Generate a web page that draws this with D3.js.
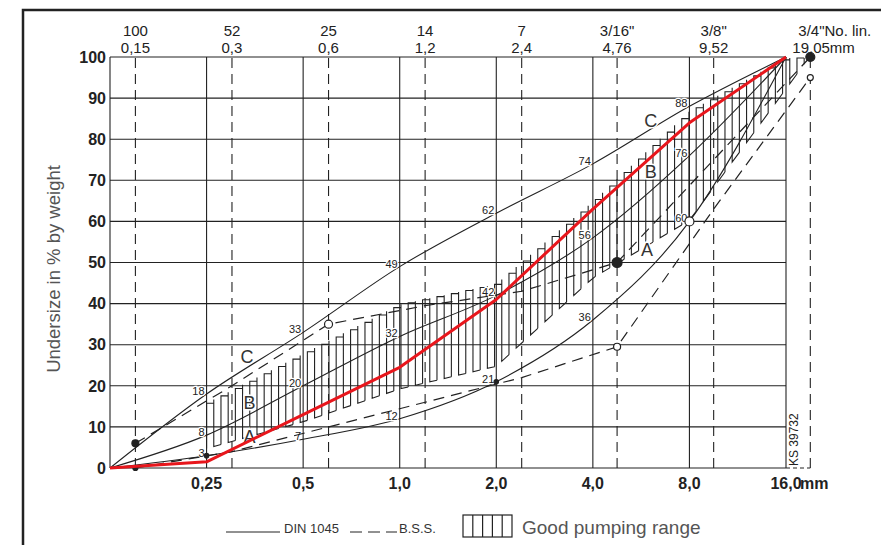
<!DOCTYPE html>
<html>
<head>
<meta charset="utf-8">
<script src="https://cdn.jsdelivr.net/npm/d3@7"></script>
<style>
body { margin: 0; background: #fff; }
svg { display: block; }
text { font-family: "Liberation Sans", Arial, sans-serif; }
</style>
</head>
<body>
<div id="chart"></div>
<script>
// sieve sizes (mm) of the DIN 1045 grid and bottom labels
const sieves = [0.125, 0.25, 0.5, 1, 2, 4, 8, 16];
const bottomLabels = ["0,25", "0,5", "1,0", "2,0", "4,0", "8,0", "16,0"];

// B.S.S. sieves, top labels
const bssSieves = [0.15, 0.3, 0.6, 1.2, 2.4, 4.76, 9.52, 19.05];
const bssNumbers = ["100", "52", "25", "14", "7", "3/16\"", "3/8\"", "3/4\"No. lin."];
const bssLabels = ["0,15", "0,3", "0,6", "1,2", "2,4", "4,76", "9,52", "19,05mm"];

const yTicks = [0, 10, 20, 30, 40, 50, 60, 70, 80, 90, 100];

// DIN 1045 grading curves (undersize % at sieves)
const dinA = [0, 3, 7, 12, 21, 36, 60, 100];
const dinB = [0, 8, 20, 32, 42, 56, 76, 100];
const dinC = [0, 18, 33, 49, 62, 74, 88, 100];

// B.S.S. limits (undersize % at bssSieves)
const bssUpper = [6, 20, 35, 39.5, 43, 50, 75, 100];
const bssLower = [0, 4, 10, 16, 22, 29.5, 63, 95];

// actual mix (red)
const mix = [0, 1.5, 13, 24.5, 41, 63, 84, 100];

// good pumping range
const rangeSizes = [0.25, 0.5, 1, 2, 4, 8, 16, 19.05];
const rangeTop = [16, 28, 40, 45, 65, 87, 100, 100];
const rangeBottom = [4.5, 11, 19, 24.5, 46, 60, 92, 100];

// marked points
const dots = [
  { d: 0.15, v: 6, r: 3.5, fill: true },
  { d: 0.15, v: 0, r: 2.5, fill: true },
  { d: 0.25, v: 3, r: 2.2, fill: true },
  { d: 0.6, v: 35, r: 4, fill: false },
  { d: 2, v: 21, r: 2.2, fill: true },
  { d: 4.76, v: 50, r: 5, fill: true },
  { d: 4.76, v: 29.5, r: 3.5, fill: false },
  { d: 8, v: 60, r: 4.5, fill: false },
  { d: 19.05, v: 100, r: 4.5, fill: true },
  { d: 19.05, v: 95, r: 3, fill: false }
];

const letters = [
  { t: "C", d: 0.334, v: 27 },
  { t: "B", d: 0.34, v: 15.8 },
  { t: "A", d: 0.34, v: 7.5 },
  { t: "C", d: 6.06, v: 84.4 },
  { t: "B", d: 6.06, v: 72 },
  { t: "A", d: 5.9, v: 53 }
];

const W = 881, H = 545;
const svg = d3.select("#chart").append("svg")
  .attr("width", W).attr("height", H);

svg.append("rect").attr("width", W).attr("height", H).attr("fill", "#fff");

// outer frame
svg.append("path")
  .attr("d", "M23,545 L23,10 L881,10")
  .attr("fill", "none").attr("stroke", "#222").attr("stroke-width", 2.5);

const x = d3.scaleLog().base(2).domain([0.125, 16]).range([110, 786]);
const y = d3.scaleLinear().domain([0, 100]).range([468, 57]);

const ink = "#222";

// horizontal grid
svg.append("g").selectAll("line").data(yTicks).enter().append("line")
  .attr("x1", x(0.125)).attr("x2", x(16))
  .attr("y1", d => y(d)).attr("y2", d => y(d))
  .attr("stroke", ink).attr("stroke-width", 1.1);

// vertical grid (DIN sieves)
svg.append("g").selectAll("line").data(sieves).enter().append("line")
  .attr("x1", d => x(d)).attr("x2", d => x(d))
  .attr("y1", y(0)).attr("y2", y(100))
  .attr("stroke", ink).attr("stroke-width", 1.1);

// dashed B.S.S. sieves
svg.append("g").selectAll("line").data(bssSieves).enter().append("line")
  .attr("x1", d => x(d)).attr("x2", d => x(d))
  .attr("y1", y(0)).attr("y2", y(100))
  .attr("stroke", ink).attr("stroke-width", 1.1)
  .attr("stroke-dasharray", "10,6");

svg.append("line")
  .attr("x1", x(16)).attr("x2", x(19.05))
  .attr("y1", y(0)).attr("y2", y(0))
  .attr("stroke", ink).attr("stroke-width", 1.1).attr("stroke-dasharray", "4,3");

// good pumping range: meander of vertical bars between the limits
const topAt = d3.scaleLog().base(2).domain(rangeSizes).range(rangeTop);
const botAt = d3.scaleLog().base(2).domain(rangeSizes).range(rangeBottom);
const hatchX = d3.range(x(0.25), x(19.05), 7.2);

let meander = "";
hatchX.forEach((px, i) => {
  const s = x.invert(px);
  const t = y(topAt(s)) + 1, b = y(botAt(s)) - 1;
  if (b - t < 1) return;
  const up = i % 2 === 0;
  meander += `M${px},${up ? b : t}L${px},${up ? t : b}`;
  const nx = hatchX[i + 1];
  if (nx !== undefined) {
    const ns = x.invert(nx);
    const capY = up ? Math.max(t, y(topAt(ns)) + 1) : Math.min(b, y(botAt(ns)) - 1);
    meander += `L${nx},${capY}`;
  }
});

svg.append("path").attr("d", meander)
  .attr("fill", "none").attr("stroke", ink).attr("stroke-width", 1.1);

// DIN 1045 curves
const dinLine = d3.line()
  .x((v, i) => x(sieves[i])).y(v => y(v))
  .curve(d3.curveMonotoneX);

[dinA, dinB, dinC].forEach(s => {
  svg.append("path").attr("d", dinLine(s))
    .attr("fill", "none").attr("stroke", ink).attr("stroke-width", 1.1);

  svg.append("g").selectAll("text").data(s.slice(1, 7)).enter().append("text")
    .attr("x", (v, i) => x(sieves[i + 1]) - 2)
    .attr("y", v => y(v) + 1)
    .attr("text-anchor", "end")
    .attr("font-size", 11)
    .attr("fill", ink)
    .attr("stroke", "#fff").attr("stroke-width", 2.5).attr("paint-order", "stroke")
    .text(v => v);
});

// B.S.S. curves
const bssLine = d3.line()
  .x((v, i) => x(bssSieves[i])).y(v => y(v));

[bssUpper, bssLower].forEach(s => {
  svg.append("path").attr("d", bssLine(s))
    .attr("fill", "none").attr("stroke", ink).attr("stroke-width", 1.2)
    .attr("stroke-dasharray", "11,7");
});

// dots
svg.append("g").selectAll("circle").data(dots).enter().append("circle")
  .attr("cx", d => x(d.d)).attr("cy", d => y(d.v)).attr("r", d => d.r)
  .attr("fill", d => d.fill ? ink : "#fff")
  .attr("stroke", ink).attr("stroke-width", 1.2);

// curve letters
svg.append("g").selectAll("text").data(letters).enter().append("text")
  .attr("x", d => x(d.d)).attr("y", d => y(d.v))
  .attr("text-anchor", "middle").attr("dominant-baseline", "central")
  .attr("font-size", 18).attr("fill", "#333")
  .attr("stroke", "#fff").attr("stroke-width", 3).attr("paint-order", "stroke")
  .text(d => d.t);

// mix line
const mixLine = d3.line()
  .x((v, i) => x(sieves[i])).y(v => y(v));

svg.append("path").attr("d", mixLine(mix))
  .attr("fill", "none").attr("stroke", "#e8161c").attr("stroke-width", 3)
  .attr("stroke-linejoin", "round");

// y tick labels
svg.append("g").selectAll("text").data(yTicks).enter().append("text")
  .attr("x", 106).attr("y", d => y(d))
  .attr("dy", "0.36em")
  .attr("text-anchor", "end")
  .attr("font-size", 16).attr("font-weight", "bold").attr("fill", ink)
  .text(d => d);

// bottom labels
svg.append("g").selectAll("text").data(sieves.slice(1)).enter().append("text")
  .attr("x", d => x(d)).attr("y", 489)
  .attr("text-anchor", "middle")
  .attr("font-size", 16).attr("font-weight", "bold").attr("fill", ink)
  .text((d, i) => bottomLabels[i]);

svg.append("text")
  .attr("x", x(16) + 14).attr("y", 489)
  .attr("font-size", 16).attr("font-weight", "bold").attr("fill", ink)
  .text("mm");

// top labels
const last = bssSieves.length - 1;
svg.append("g").selectAll("text").data(bssSieves).enter().append("text")
  .attr("x", (d, i) => i === last ? x(d) - 12 : x(d))
  .attr("y", 36)
  .attr("text-anchor", (d, i) => i === last ? "start" : "middle")
  .attr("font-size", 15).attr("fill", ink)
  .text((d, i) => bssNumbers[i]);

svg.append("g").selectAll("text").data(bssSieves).enter().append("text")
  .attr("x", (d, i) => i === last ? x(d) - 18 : x(d))
  .attr("y", 53)
  .attr("text-anchor", (d, i) => i === last ? "start" : "middle")
  .attr("font-size", 15).attr("fill", ink)
  .text((d, i) => bssLabels[i]);

// y title
svg.append("text")
  .attr("transform", "translate(60,269) rotate(-90)")
  .attr("text-anchor", "middle")
  .attr("font-size", 18.5).attr("fill", "#555")
  .text("Undersize in % by weight");

// KS ref
svg.append("text")
  .attr("transform", `translate(${x(16) + 12},466) rotate(-90)`)
  .attr("font-size", 12).attr("fill", ink)
  .text("KS 39732");

// legend
const legend = svg.append("g");
legend.append("line")
  .attr("x1", 226).attr("x2", 280).attr("y1", 532).attr("y2", 532)
  .attr("stroke", ink).attr("stroke-width", 1);
legend.append("text").attr("x", 284).attr("y", 533)
  .attr("font-size", 13).attr("fill", "#333").text("DIN 1045");
legend.append("line")
  .attr("x1", 350).attr("x2", 397).attr("y1", 532).attr("y2", 532)
  .attr("stroke", ink).attr("stroke-width", 1).attr("stroke-dasharray", "12,6");
legend.append("text").attr("x", 399).attr("y", 533)
  .attr("font-size", 13).attr("fill", "#333").text("B.S.S.");

legend.append("rect")
  .attr("x", 463).attr("y", 515).attr("width", 49).attr("height", 22)
  .attr("fill", "none").attr("stroke", ink).attr("stroke-width", 1.2);
legend.selectAll("line.col").data([1, 2, 3, 4]).enter().append("line")
  .attr("class", "col")
  .attr("x1", d => 463 + d * 9.8).attr("x2", d => 463 + d * 9.8)
  .attr("y1", 515).attr("y2", 537)
  .attr("stroke", ink).attr("stroke-width", 1.2);
legend.append("text").attr("x", 522).attr("y", 534)
  .attr("font-size", 19).attr("fill", "#555").text("Good pumping range");
</script>
</body>
</html>
